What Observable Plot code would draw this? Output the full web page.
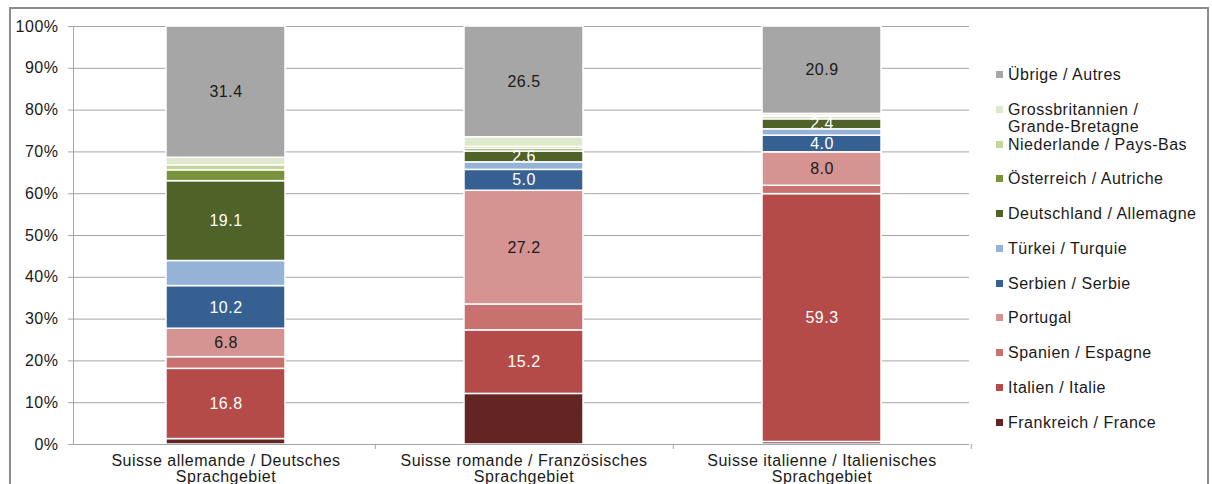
<!DOCTYPE html>
<html>
<head>
<meta charset="utf-8">
<script src="https://cdn.jsdelivr.net/npm/d3@7"></script>
<script src="https://cdn.jsdelivr.net/npm/@observablehq/plot@0.6"></script>
<style>
  html, body { margin: 0; padding: 0; background: #fff; }
  body { width: 1212px; height: 484px; position: relative; overflow: hidden;
         font-family: "Liberation Sans", Arial, sans-serif; }
  #frame { position: absolute; left: 9px; top: 7px; width: 1200px; height: 520px;
           border: 2px solid #8c8c8c; box-sizing: border-box; pointer-events: none; }
  #chart { position: absolute; left: 0; top: 0; }
  .lg { position: absolute; left: 996px; font-size: 16px; letter-spacing: 0.5px;
        color: #1a1a1a; line-height: 17px; white-space: nowrap; }
  .lg .sw { position: absolute; left: 0; top: 5px; width: 7px; height: 7px; }
  .lg .tx { position: absolute; left: 12px; top: 0; }
</style>
</head>
<body>
<div id="chart"></div>
<div id="legend"></div>
<div id="frame"></div>
<script>
// ---- Data ----
const regions = [
  "Suisse allemande / Deutsches\nSprachgebiet",
  "Suisse romande / Französisches\nSprachgebiet",
  "Suisse italienne / Italienisches\nSprachgebiet"
];
// stacking order bottom -> top
const countries = [
  "Frankreich / France",
  "Italien / Italie",
  "Spanien / Espagne",
  "Portugal",
  "Serbien / Serbie",
  "Türkei / Turquie",
  "Deutschland / Allemagne",
  "Österreich / Autriche",
  "Niederlande / Pays-Bas",
  "Grossbritannien / Grande-Bretagne",
  "Übrige / Autres"
];
const legendLabels = [
  "Frankreich / France",
  "Italien / Italie",
  "Spanien / Espagne",
  "Portugal",
  "Serbien / Serbie",
  "Türkei / Turquie",
  "Deutschland / Allemagne",
  "Österreich / Autriche",
  "Niederlande / Pays-Bas",
  "Grossbritannien /\nGrande-Bretagne",
  "Übrige / Autres"
];
const colors = ["#632523", "#B54B48", "#C8716F", "#D59391", "#376092", "#95B3D7",
                "#4F6228", "#77933C", "#C3D69B", "#DDE8CC", "#A6A6A6"];
const valuesDeutsch  = [1.3, 16.8, 2.8, 6.8, 10.2, 6.0, 19.1, 2.6, 1.2, 1.8, 31.4];
const valuesRomand   = [12.1, 15.2, 6.2, 27.2, 5.0, 1.8, 2.6, 0.6, 0.5, 2.3, 26.5];
const valuesItalien  = [0.6, 59.3, 2.0, 8.0, 4.0, 1.5, 2.4, 0.5, 0.3, 0.5, 20.9];
const yTicks = [0, 10, 20, 30, 40, 50, 60, 70, 80, 90, 100];
const labelDark = ["Portugal", "Übrige / Autres"];
const labelLight = ["Italien / Italie", "Serbien / Serbie", "Deutschland / Allemagne"];

// ---- Build table ----
const series = [valuesDeutsch, valuesRomand, valuesItalien];
const data = regions.flatMap((r, ri) =>
  countries.map((c, ci) => ({region: r, country: c, value: series[ri][ci]})));

const W = 1212, H = 484, ML = 73, MR = 243, MT = 26, MB = 40;
const step = (W - ML - MR) / regions.length;
const grey = "#A6A6A6";
const font = "'Liberation Sans', Arial, sans-serif";

const chart = Plot.plot({
  width: W, height: H,
  marginLeft: ML, marginRight: MR, marginTop: MT, marginBottom: MB,
  style: {fontFamily: font, fontSize: "16px", letterSpacing: "0.5px",
          background: "transparent", color: "#1a1a1a", overflow: "visible"},
  x: {domain: regions, paddingInner: 0.6, paddingOuter: 0.3, align: 0.515, label: null},
  y: {domain: [0, 100], label: null},
  color: {domain: countries, range: colors},
  marks: [
    Plot.gridY({ticks: yTicks, stroke: grey, strokeOpacity: 1}),
    Plot.barY(data, Plot.stackY({x: "region", y: "value", fill: "country",
      order: countries, stroke: "white", strokeWidth: 1.5})),
    Plot.text(data, Plot.stackY({x: "region", y: "value", z: "country", order: countries,
      text: d => labelDark.includes(d.country) ? d.value.toFixed(1) : null,
      fill: "#1a1a1a", fontSize: 16})),
    Plot.text(data, Plot.stackY({x: "region", y: "value", z: "country", order: countries,
      text: d => labelLight.includes(d.country) ? d.value.toFixed(1) : null,
      fill: "white", fontSize: 16})),
    Plot.ruleY([0], {stroke: grey}),
    Plot.frame({anchor: "left", stroke: grey}),
    Plot.axisY({ticks: yTicks, tickFormat: d => d + "%", tickSize: 5, tickPadding: 10,
      stroke: grey, fill: "#1a1a1a", label: null}),
    Plot.axisX({tickSize: 0, tickPadding: 10, lineHeight: 1, fill: "#1a1a1a", label: null}),
    Plot.axisX({tickSize: 5, tickFormat: () => "", dx: step / 2, stroke: grey, label: null})
  ]
});
document.getElementById("chart").appendChild(chart);

// ---- Legend (top -> bottom = reverse stacking order) ----
const legend = document.getElementById("legend");
const order = countries.map((c, i) => i).reverse();
order.forEach((ci, k) => {
  const item = document.createElement("div");
  item.className = "lg";
  item.style.top = (75 + k * 34.75 - 9) + "px";
  const sw = document.createElement("div");
  sw.className = "sw";
  sw.style.background = colors[ci];
  const tx = document.createElement("div");
  tx.className = "tx";
  tx.innerHTML = legendLabels[ci].split("\n").join("<br>");
  item.appendChild(sw);
  item.appendChild(tx);
  legend.appendChild(item);
});
</script>
</body>
</html>
